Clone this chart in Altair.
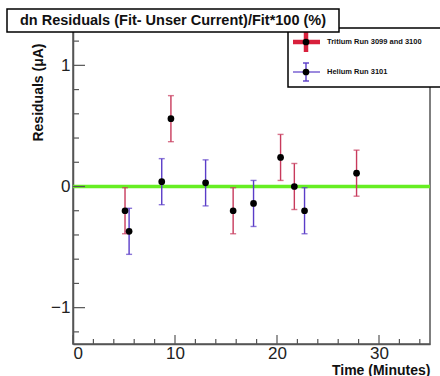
import altair as alt
import pandas as pd

# ---- data ----
series_names = ["Tritium Run 3099 and 3100", "Helium Run 3101"]
series_colors = ["#c83a5c", "#5a3cc8"]

tritium_x = [5.1, 9.6, 15.7, 20.35, 21.7, 27.8]
tritium_y = [-0.20, 0.56, -0.20, 0.24, 0.00, 0.11]
tritium_err = [0.19, 0.19, 0.19, 0.19, 0.19, 0.19]

helium_x = [5.5, 8.7, 13.0, 17.7, 22.7]
helium_y = [-0.37, 0.04, 0.03, -0.14, -0.20]
helium_err = [0.19, 0.19, 0.19, 0.19, 0.19]

x_major = [0, 10, 20, 30]
x_minor = [2, 4, 6, 8, 12, 14, 16, 18, 22, 24, 26, 28, 32, 34]
y_major = [-1, 0, 1]
y_minor = [-1.2, -0.8, -0.6, -0.4, -0.2, 0.2, 0.4, 0.6, 0.8, 1.2]

title_text = "dn Residuals (Fit- Unser Current)/Fit*100 (%)"
x_title = "Time (Minutes)"
y_title = "Residuals (\u03bcA)"

# ---- layout ----
W, H = 357, 315
FONT = "Liberation Sans"
AXC = "#555555"

rows = []
for name, xs, ys, es in [(series_names[0], tritium_x, tritium_y, tritium_err),
                         (series_names[1], helium_x, helium_y, helium_err)]:
    for x, y, e in zip(xs, ys, es):
        rows.append({"series": name, "x": x, "y": y, "lo": y - e, "hi": y + e})
df = pd.DataFrame(rows)

xs = alt.Scale(domain=[0, 35], nice=False, zero=False)
ys = alt.Scale(domain=[-1.3, 1.3], nice=False, zero=False)
col = alt.Color("series:N", scale=alt.Scale(domain=series_names, range=series_colors), legend=None)

base = alt.Chart(df)

# invisible layer carrying axes
axes = base.mark_point(opacity=0).encode(
    x=alt.X("x:Q", scale=xs, axis=alt.Axis(
        values=x_major, format="d", ticks=False, grid=False, domainColor=AXC, domainWidth=1.5,
        labelFont=FONT, labelFontSize=17, labelColor="#222", labelPadding=1,
        title=x_title, titleFont=FONT, titleFontSize=14, titleFontWeight="bold",
        titleColor="#111", titleAnchor="end", titleAlign="right", titleX=W,
        titleY=30, titleBaseline="alphabetic")),
    y=alt.Y("y:Q", scale=ys, axis=alt.Axis(
        values=y_major, format="d", ticks=False, grid=False, domainColor=AXC, domainWidth=1.5,
        labelFont=FONT, labelFontSize=17, labelColor="#222", labelPadding=3,
        title=y_title, titleFont=FONT, titleFontSize=14, titleFontWeight="bold",
        titleColor="#111", titleAngle=270, titleAlign="right", titleX=-31,
        titleY=14, titleBaseline="alphabetic")),
)

# inward ticks
ymaj = alt.Chart(pd.DataFrame({"v": y_major})).mark_rule(color=AXC, strokeWidth=1.2).encode(
    y=alt.Y("v:Q", scale=ys), x=alt.value(0), x2=alt.value(12))
ymin = alt.Chart(pd.DataFrame({"v": y_minor})).mark_rule(color=AXC, strokeWidth=1.2).encode(
    y=alt.Y("v:Q", scale=ys), x=alt.value(0), x2=alt.value(6))
xmaj = alt.Chart(pd.DataFrame({"v": x_major})).mark_rule(color=AXC, strokeWidth=1.2).encode(
    x=alt.X("v:Q", scale=xs), y=alt.value(H), y2=alt.value(H - 9))
xmin = alt.Chart(pd.DataFrame({"v": x_minor})).mark_rule(color=AXC, strokeWidth=1.2).encode(
    x=alt.X("v:Q", scale=xs), y=alt.value(H), y2=alt.value(H - 5))

zero = alt.Chart(pd.DataFrame({"v": [0]})).mark_rule(color="#66ee22", strokeWidth=3.5).encode(
    y=alt.Y("v:Q", scale=ys), x=alt.value(0), x2=alt.value(W))

bars = base.mark_rule(strokeWidth=1.4).encode(
    x=alt.X("x:Q", scale=xs), y=alt.Y("lo:Q", scale=ys), y2="hi:Q", color=col)
cap_lo = base.mark_tick(orient="horizontal", size=6, thickness=1.4).encode(
    x=alt.X("x:Q", scale=xs), y=alt.Y("lo:Q", scale=ys), color=col)
cap_hi = base.mark_tick(orient="horizontal", size=6, thickness=1.4).encode(
    x=alt.X("x:Q", scale=xs), y=alt.Y("hi:Q", scale=ys), color=col)
dots = base.mark_circle(size=45, color="black", opacity=1).encode(
    x=alt.X("x:Q", scale=xs), y=alt.Y("y:Q", scale=ys))

# legend box (drawn manually)
lg = pd.DataFrame({"name": series_names})
leg_box = alt.Chart(lg.head(1)).mark_rect(fill="white", stroke="black", strokeWidth=1.5).encode(
    x=alt.value(215), x2=alt.value(380), y=alt.value(-1), y2=alt.value(58))
leg_r_h = alt.Chart(lg.head(1)).mark_rule(color="#d8203c", strokeWidth=4.5).encode(
    x=alt.value(220), x2=alt.value(247), y=alt.value(13))
leg_r_v = alt.Chart(lg.head(1)).mark_rule(color="#d8203c", strokeWidth=4.5).encode(
    x=alt.value(233), y=alt.value(3), y2=alt.value(23))
leg_b_h = alt.Chart(lg.head(1)).mark_rule(color=series_colors[1], strokeWidth=1.2).encode(
    x=alt.value(220), x2=alt.value(247), y=alt.value(43))
leg_b_v = alt.Chart(lg.head(1)).mark_rule(color=series_colors[1], strokeWidth=1.4).encode(
    x=alt.value(233), y=alt.value(34), y2=alt.value(52))
leg_b_c1 = alt.Chart(lg.head(1)).mark_rule(color=series_colors[1], strokeWidth=1.4).encode(
    x=alt.value(230), x2=alt.value(236), y=alt.value(34))
leg_b_c2 = alt.Chart(lg.head(1)).mark_rule(color=series_colors[1], strokeWidth=1.4).encode(
    x=alt.value(230), x2=alt.value(236), y=alt.value(52))
leg_dots = alt.Chart(pd.DataFrame({"name": series_names, "py": [13, 43]})).mark_circle(
    size=45, color="black", opacity=1).encode(x=alt.value(233), y=alt.Y("py:Q", scale=None))
leg_text = alt.Chart(pd.DataFrame({"name": series_names, "py": [13, 43]})).mark_text(
    align="left", baseline="middle", font=FONT, fontSize=7.5, fontWeight="bold", color="#111").encode(
    x=alt.value(254), y=alt.Y("py:Q", scale=None), text="name:N")

# title box
tb = pd.DataFrame({"t": [title_text]})
title_box = alt.Chart(tb).mark_rect(fill="white", stroke="black", strokeWidth=1.5).encode(
    x=alt.value(-66), x2=alt.value(266), y=alt.value(-20), y2=alt.value(3))
title_txt = alt.Chart(tb).mark_text(
    align="center", baseline="middle", font=FONT, fontSize=14.5, fontWeight="bold", color="#111").encode(
    x=alt.value(100), y=alt.value(-8), text="t:N")

chart = alt.layer(
    axes, zero, ymin, ymaj, xmin, xmaj, bars, cap_lo, cap_hi, dots,
    leg_box, leg_r_h, leg_r_v, leg_b_h, leg_b_v, leg_b_c1, leg_b_c2, leg_dots, leg_text,
    title_box, title_txt,
).properties(
    width=W, height=H,
    autosize=alt.AutoSizeParams(type="none"),
    padding={"left": 73, "top": 29, "right": 10, "bottom": 32},
    background="white",
).configure_view(stroke=AXC, strokeWidth=1.5)

chart.save("out.html", embed_options={"renderer": "svg", "actions": False})
